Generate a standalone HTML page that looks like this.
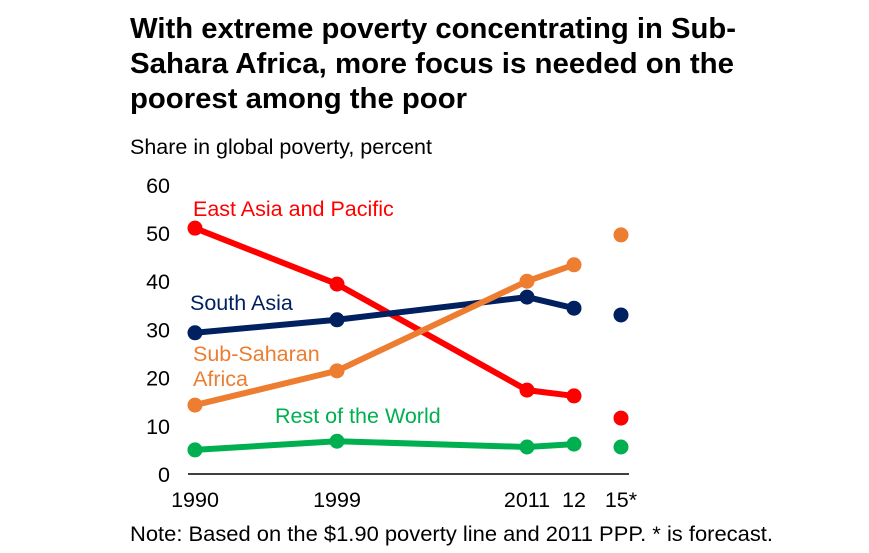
<!DOCTYPE html>
<html><head><meta charset="utf-8"><style>
body{margin:0;background:#fff;width:869px;height:553px;overflow:hidden;font-family:"Liberation Sans",Arial,sans-serif}
svg{position:absolute;left:0;top:0}
</style></head><body>
<svg width="869" height="553">
<g font-weight="bold" font-size="28.5" fill="#000">
<text x="130" y="38" textLength="606" lengthAdjust="spacingAndGlyphs">With extreme poverty concentrating in Sub-</text>
<text x="130" y="73" textLength="604" lengthAdjust="spacingAndGlyphs">Sahara Africa, more focus is needed on the</text>
<text x="130" y="108" textLength="337" lengthAdjust="spacingAndGlyphs">poorest among the poor</text>
</g>
<text x="130" y="154" font-size="21.5">Share in global poverty, percent</text>
<g id="yt"></g>
<g id="xt"></g>
<line x1="188" x2="629" y1="474" y2="474" stroke="#000" stroke-width="1.5"/>
<g id="series"></g>
<g font-size="21.5">
<text x="193" y="216" fill="#ff0000">East Asia and Pacific</text>
<text x="190" y="310" fill="#002060">South Asia</text>
<text x="193" y="361" fill="#ed7d31">Sub-Saharan</text>
<text x="193" y="386" fill="#ed7d31">Africa</text>
<text x="275" y="423" fill="#00b050">Rest of the World</text>
</g>
<text x="130" y="541" font-size="21.5" textLength="643" lengthAdjust="spacingAndGlyphs">Note: Based on the $1.90 poverty line and 2011 PPP. * is forecast.</text>
</svg>
<script>
const categories=["1990","1999","2011","12","15*"];
const catX=[195,337,527,574,621];
const yTicks=[0,10,20,30,40,50,60];
const eastAsia=[51,39.4,17.4,16.2,11.6];
const southAsia=[29.3,32,36.7,34.4,33];
const subSaharan=[14.3,21.4,40,43.4,49.6];
const restWorld=[5,6.8,5.6,6.2,5.6];
const NS="http://www.w3.org/2000/svg";
function y(v){return 474-v*4.82;}
function x(i){return catX[i];}
function mk(t,a,p){const e=document.createElementNS(NS,t);for(const k in a)e.setAttribute(k,a[k]);p.appendChild(e);return e;}
const yt=document.getElementById('yt'),xt=document.getElementById('xt'),sg=document.getElementById('series');
yTicks.forEach(v=>{const t=mk('text',{x:170,y:y(v)+8,'text-anchor':'end','font-size':21.5},yt);t.textContent=v;

});
categories.forEach((c,i)=>{const t=mk('text',{x:x(i),y:507,'text-anchor':'middle','font-size':21.5},xt);t.textContent=c;

});
[[eastAsia,'#ff0000','east-asia'],[southAsia,'#002060','south-asia'],[subSaharan,'#ed7d31','sub-saharan-africa'],[restWorld,'#00b050','rest-of-world']].forEach(([d,c,n])=>{
const g=mk('g',{},sg);


const pts=d.slice(0,4).map((v,i)=>x(i)+','+y(v)).join(' ');
const l=mk('polyline',{points:pts,fill:'none',stroke:c,'stroke-width':6,'stroke-linejoin':'round'},g);


d.forEach((v,i)=>{const p=mk('circle',{cx:x(i),cy:y(v),r:7.5,fill:c},g);

});
});
</script>
</body></html>
